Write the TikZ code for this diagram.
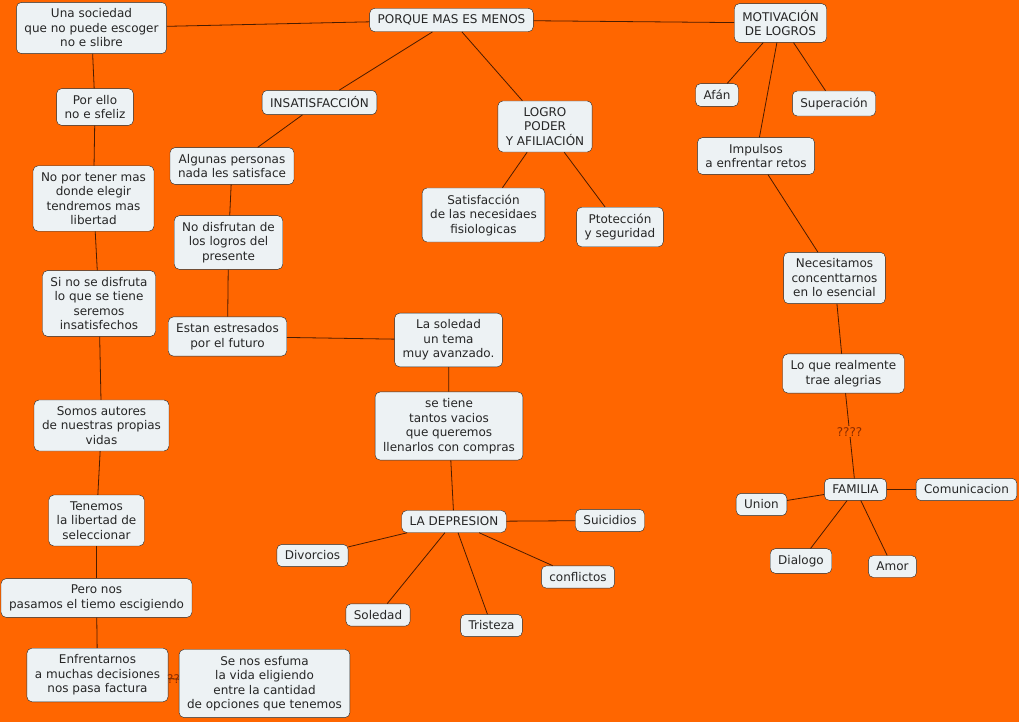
\documentclass[tikz,border=0pt]{standalone}
\usepackage{fontspec}
\setmainfont{DejaVu Sans}
\usetikzlibrary{positioning}
\definecolor{bgorange}{HTML}{FF6600}
\definecolor{boxfill}{HTML}{EDF2F4}
\definecolor{linkbrown}{HTML}{4A1C00}
\definecolor{qmark}{HTML}{8A2C00}

\begin{document}
\begin{tikzpicture}[
    x=1pt, y=-1pt,
    box/.style={draw=black!85, fill=boxfill, rounded corners=5pt, align=center,
        font=\fontsize{12}{14.5}\selectfont, inner xsep=8pt, inner ysep=6.5pt, text=black!85},
    link/.style={draw=linkbrown, line width=0.8pt},
    qlbl/.style={font=\fontsize{12}{14}\selectfont, text=qmark, fill=bgorange, inner sep=1pt},
]

\fill[bgorange] (0,0) rectangle (1019,722);
\useasboundingbox (0,0) rectangle (1019,722);

% top row
\node[box] (soc) at (91.5,28) {Una sociedad\\que no puede escoger\\no e slibre};
\node[box] (porque) at (451.5,20) {PORQUE MAS ES MENOS};
\node[box] (motiv) at (780.5,23) {MOTIVACIÓN\\DE LOGROS};

% left column
\node[box] (porello) at (95,107) {Por ello\\no e sfeliz};
\node[box] (noportener) at (93.5,198.5) {No por tener mas\\donde elegir\\tendremos mas\\libertad};
\node[box] (sinose) at (99,303.5) {Si no se disfruta\\lo que se tiene\\seremos\\insatisfechos};
\node[box] (somos) at (101.5,425.5) {Somos autores\\de nuestras propias\\vidas};
\node[box] (tenemos) at (96.5,520.5) {Tenemos\\la libertad de\\seleccionar};
\node[box] (pero) at (96.5,598) {Pero nos\\pasamos el tiemo escigiendo};
\node[box] (enfrent) at (97.5,675) {Enfrentarnos\\a muchas decisiones\\nos pasa factura};
\node[box] (senos) at (264.5,683.5) {Se nos esfuma\\la vida eligiendo\\entre la cantidad\\de opciones que tenemos};

% insatisfaccion branch
\node[box] (insat) at (319.5,102.5) {INSATISFACCIÓN};
\node[box] (algunas) at (232,166) {Algunas personas\\nada les satisface};
\node[box] (nodisf) at (228.5,242.5) {No disfrutan de\\los logros del\\presente};
\node[box] (estan) at (227.5,336.5) {Estan estresados\\por el futuro};
\node[box] (soledadt) at (448.5,340) {La soledad\\un tema\\muy avanzado.};
\node[box] (setiene) at (449,426) {se tiene\\tantos vacios\\que queremos\\llenarlos con compras};
\node[box] (depre) at (454,521.5) {LA DEPRESION};
\node[box] (suicid) at (610,520.5) {Suicidios};
\node[box] (divorc) at (312.5,555.5) {Divorcios};
\node[box] (conflic) at (578,577) {conflictos};
\node[box] (soled) at (378,615) {Soledad};
\node[box] (trist) at (491.5,625.5) {Tristeza};

% logro branch
\node[box] (logro) at (545,126.5) {LOGRO\\PODER\\Y AFILIACIÓN};
\node[box] (satisf) at (483.5,215) {Satisfacción\\de las necesidaes\\fisiologicas};
\node[box] (protec) at (620,227) {Ptotección\\y seguridad};

% motivacion branch
\node[box] (afan) at (717,95) {Afán};
\node[box] (super) at (834,103.5) {Superación};
\node[box] (impulsos) at (756,156) {Impulsos\\a enfrentar retos};
\node[box] (necesit) at (834.5,278) {Necesitamos\\concenttarnos\\en lo esencial};
\node[box] (loque) at (843.5,373.5) {Lo que realmente\\trae alegrias};
\node[box] (familia) at (855.5,489.5) {FAMILIA};
\node[box] (union) at (761.5,504.5) {Union};
\node[box] (comunic) at (966.5,489.5) {Comunicacion};
\node[box] (dialogo) at (801,561) {Dialogo};
\node[box] (amor) at (892.5,566.5) {Amor};

\foreach \a/\b in {porque/soc, porque/motiv, porque/insat, porque/logro,
    soc/porello, porello/noportener, noportener/sinose, sinose/somos,
    somos/tenemos, tenemos/pero, pero/enfrent,
    insat/algunas, algunas/nodisf, nodisf/estan, estan/soledadt,
    soledadt/setiene, setiene/depre,
    depre/suicid, depre/divorc, depre/conflic, depre/soled, depre/trist,
    logro/satisf, logro/protec,
    motiv/afan, motiv/super, motiv/impulsos, impulsos/necesit, necesit/loque,
    familia/union, familia/comunic, familia/dialogo, familia/amor} {
    \draw[link] (\a) -- (\b);
}

\draw[link] (enfrent) -- node[qlbl, fill=none] {??} (senos);
\draw[link] (loque) -- node[qlbl, pos=0.45] {????} (familia);

\end{tikzpicture}
\end{document}
